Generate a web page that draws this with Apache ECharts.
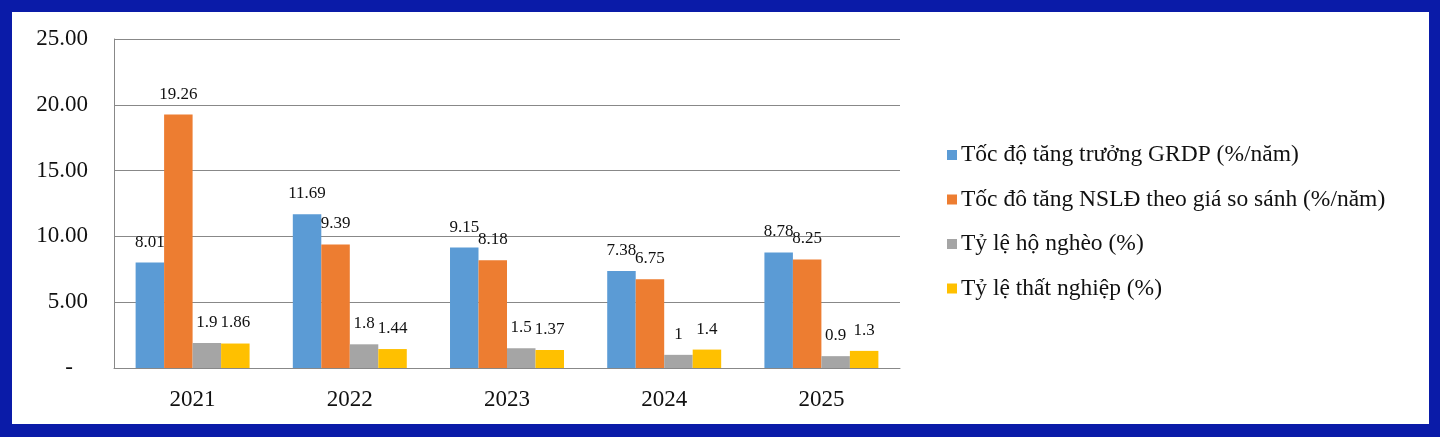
<!DOCTYPE html>
<html>
<head>
<meta charset="utf-8">
<script src="https://cdn.jsdelivr.net/npm/echarts@6/dist/echarts.min.js"></script>
<style>
html,body{margin:0;padding:0;background:#0A1BA8;width:1440px;height:437px;overflow:hidden;}
#c{position:absolute;left:12px;top:12px;width:1417px;height:412px;background:#fff;}
</style>
</head>
<body>
<div id="c"></div>
<script>
const categories = ['2021','2022','2023','2024','2025'];
const seriesNames = ['Tốc độ tăng trưởng GRDP (%/năm)','Tốc đô tăng NSLĐ theo giá so sánh (%/năm)','Tỷ lệ hộ nghèo (%)','Tỷ lệ thất nghiệp (%)'];
const grdp = [8.01, 11.69, 9.15, 7.38, 8.78];
const nsld = [19.26, 9.39, 8.18, 6.75, 8.25];
const hoNgheo = [1.9, 1.8, 1.5, 1, 0.9];
const thatNghiep = [1.86, 1.44, 1.37, 1.4, 1.3];
const yTicks = [0, 5, 10, 15, 20, 25];
const colors = ['#5B9BD5','#ED7D31','#A5A5A5','#FFC000'];

const font = '"Liberation Serif","Times New Roman",serif';
const chart = echarts.init(document.getElementById('c'));
const data = [grdp, nsld, hoNgheo, thatNghiep];
chart.setOption({
  animation:false,
  color: colors,
  grid:{left:102, top:27, right:529, bottom:56, containLabel:false},
  legend:{
    orient:'vertical', left:930, top:126,
    itemWidth:10, itemHeight:10, itemGap:20.5, icon:'rect',
    textStyle:{fontFamily:font, fontSize:23.5, color:'#111', lineHeight:24, padding:[0,0,0,-1]},
    data: seriesNames
  },
  xAxis:{
    type:'category', data:categories,
    axisLine:{show:true, lineStyle:{color:'#888', width:1}},
    axisTick:{show:false},
    axisLabel:{fontFamily:font, fontSize:23, color:'#111', margin:20}
  },
  yAxis:{
    type:'value', min:yTicks[0], max:yTicks[yTicks.length-1], interval:5,
    axisLine:{show:true, lineStyle:{color:'#888', width:1}},
    axisTick:{show:false},
    splitLine:{lineStyle:{color:'#888', width:1}},
    axisLabel:{fontFamily:font, fontSize:23, color:'#111', margin:26,
      formatter: v => v === 0 ? '{z|-}' : v.toFixed(2),
      rich:{z:{fontFamily:font, fontSize:23, color:'#111', padding:[0,15,0,0]}}}
  },
  series: seriesNames.map((n,i)=>({
    name:n, type:'bar', data:data[i],
    barGap:'0%', barCategoryGap:'27.5%',
    itemStyle:{color:colors[i]},
    label:{show:true, position:'top', distance:12, fontFamily:font, fontSize:17, color:'#111',
      formatter: p => String(p.value)}
  }))
});
</script>
</body>
</html>
